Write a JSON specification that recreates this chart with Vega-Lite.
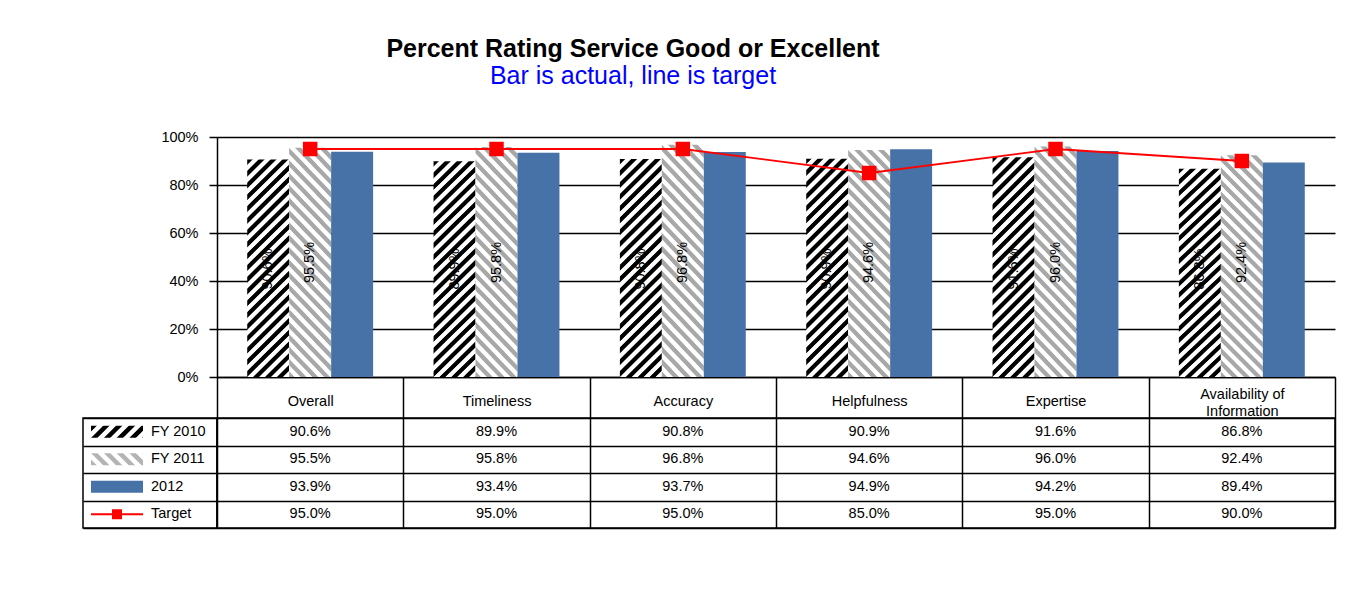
{
  "$schema": "https://vega.github.io/schema/vega-lite/v6.json",
  "padding": {"left": 82, "top": 37, "right": 17, "bottom": 20},
  "config": {"font": "Liberation Sans", "view": {"stroke": null}},
  "title": {"text": "Percent Rating Service Good or Excellent", "subtitle": "Bar is actual, line is target", "anchor": "middle", "dx": -76, "fontSize": 25, "fontWeight": "bold", "color": "black", "subtitleFontSize": 25, "subtitleColor": "#0000FF", "subtitlePadding": 2, "offset": 40},
  "datasets": {
    "d": [
      {"cat": "Overall", "series": "FY 2010", "value": 0.906},
      {"cat": "Timeliness", "series": "FY 2010", "value": 0.899},
      {"cat": "Accuracy", "series": "FY 2010", "value": 0.908},
      {"cat": "Helpfulness", "series": "FY 2010", "value": 0.909},
      {"cat": "Expertise", "series": "FY 2010", "value": 0.916},
      {"cat": "Availability of Information", "series": "FY 2010", "value": 0.868},
      {"cat": "Overall", "series": "FY 2011", "value": 0.955},
      {"cat": "Timeliness", "series": "FY 2011", "value": 0.958},
      {"cat": "Accuracy", "series": "FY 2011", "value": 0.968},
      {"cat": "Helpfulness", "series": "FY 2011", "value": 0.946},
      {"cat": "Expertise", "series": "FY 2011", "value": 0.960},
      {"cat": "Availability of Information", "series": "FY 2011", "value": 0.924},
      {"cat": "Overall", "series": "2012", "value": 0.939},
      {"cat": "Timeliness", "series": "2012", "value": 0.934},
      {"cat": "Accuracy", "series": "2012", "value": 0.937},
      {"cat": "Helpfulness", "series": "2012", "value": 0.949},
      {"cat": "Expertise", "series": "2012", "value": 0.942},
      {"cat": "Availability of Information", "series": "2012", "value": 0.894},
      {"cat": "Overall", "series": "Target", "value": 0.95},
      {"cat": "Timeliness", "series": "Target", "value": 0.95},
      {"cat": "Accuracy", "series": "Target", "value": 0.95},
      {"cat": "Helpfulness", "series": "Target", "value": 0.85},
      {"cat": "Expertise", "series": "Target", "value": 0.95},
      {"cat": "Availability of Information", "series": "Target", "value": 0.90}
    ]
  },
  "columns": 2,
  "spacing": {"row": 41, "column": 0},
  "bounds": "flush",
  "align": "each",
  "concat": [
    {
      "width": 134, "height": 240,
      "data": {"values": [{"a": 1}]},
      "mark": {"type": "text", "text": ""},
      "encoding": {}
    },
    {
      "width": 1118, "height": 240,
      "data": {"name": "d"},
      "encoding": {
        "x": {"field": "cat", "type": "nominal",
          "scale": {"domain": ["Overall", "Timeliness", "Accuracy", "Helpfulness", "Expertise", "Availability of Information"], "paddingInner": 0, "paddingOuter": 0},
          "axis": {"title": null, "labelAngle": 0, "tickBand": "extent", "ticks": true, "tickSize": 41, "tickColor": "black", "tickWidth": 1.5, "domain": true, "domainColor": "black", "domainWidth": 1.5, "labelPadding": -17, "labelFontSize": 14.5, "labelColor": "black", "labelLimit": 0, "labelLineHeight": 17, "grid": false,
            "labelBaseline": {"condition": {"test": "datum.label == 'Availability of Information'", "value": "bottom"}, "value": "middle"},
            "labelExpr": "datum.label == 'Availability of Information' ? ['Availability of', 'Information'] : datum.label"}}
      },
      "layer": [
        {
          "transform": [{"filter": "datum.series === 'FY 2010'"}],
          "mark": {"type": "bar", "strokeWidth": 0, "fill": {"gradient": "linear", "x1": 0, "y1": 0, "x2": 0.22, "y2": 1.15, "stops": [
            {"offset": 0, "color": "#000000"}, {"offset": 0.01818, "color": "#000000"}, {"offset": 0.02273, "color": "#ffffff"}, {"offset": 0.04091, "color": "#ffffff"},
            {"offset": 0.04545, "color": "#000000"}, {"offset": 0.06364, "color": "#000000"}, {"offset": 0.06818, "color": "#ffffff"}, {"offset": 0.08636, "color": "#ffffff"},
            {"offset": 0.09091, "color": "#000000"}, {"offset": 0.10909, "color": "#000000"}, {"offset": 0.11364, "color": "#ffffff"}, {"offset": 0.13182, "color": "#ffffff"},
            {"offset": 0.13636, "color": "#000000"}, {"offset": 0.15455, "color": "#000000"}, {"offset": 0.15909, "color": "#ffffff"}, {"offset": 0.17727, "color": "#ffffff"},
            {"offset": 0.18182, "color": "#000000"}, {"offset": 0.2, "color": "#000000"}, {"offset": 0.20455, "color": "#ffffff"}, {"offset": 0.22273, "color": "#ffffff"},
            {"offset": 0.22727, "color": "#000000"}, {"offset": 0.24545, "color": "#000000"}, {"offset": 0.25, "color": "#ffffff"}, {"offset": 0.26818, "color": "#ffffff"},
            {"offset": 0.27273, "color": "#000000"}, {"offset": 0.29091, "color": "#000000"}, {"offset": 0.29545, "color": "#ffffff"}, {"offset": 0.31364, "color": "#ffffff"},
            {"offset": 0.31818, "color": "#000000"}, {"offset": 0.33636, "color": "#000000"}, {"offset": 0.34091, "color": "#ffffff"}, {"offset": 0.35909, "color": "#ffffff"},
            {"offset": 0.36364, "color": "#000000"}, {"offset": 0.38182, "color": "#000000"}, {"offset": 0.38636, "color": "#ffffff"}, {"offset": 0.40455, "color": "#ffffff"},
            {"offset": 0.40909, "color": "#000000"}, {"offset": 0.42727, "color": "#000000"}, {"offset": 0.43182, "color": "#ffffff"}, {"offset": 0.45, "color": "#ffffff"},
            {"offset": 0.45455, "color": "#000000"}, {"offset": 0.47273, "color": "#000000"}, {"offset": 0.47727, "color": "#ffffff"}, {"offset": 0.49545, "color": "#ffffff"},
            {"offset": 0.5, "color": "#000000"}, {"offset": 0.51818, "color": "#000000"}, {"offset": 0.52273, "color": "#ffffff"}, {"offset": 0.54091, "color": "#ffffff"},
            {"offset": 0.54545, "color": "#000000"}, {"offset": 0.56364, "color": "#000000"}, {"offset": 0.56818, "color": "#ffffff"}, {"offset": 0.58636, "color": "#ffffff"},
            {"offset": 0.59091, "color": "#000000"}, {"offset": 0.60909, "color": "#000000"}, {"offset": 0.61364, "color": "#ffffff"}, {"offset": 0.63182, "color": "#ffffff"},
            {"offset": 0.63636, "color": "#000000"}, {"offset": 0.65455, "color": "#000000"}, {"offset": 0.65909, "color": "#ffffff"}, {"offset": 0.67727, "color": "#ffffff"},
            {"offset": 0.68182, "color": "#000000"}, {"offset": 0.7, "color": "#000000"}, {"offset": 0.70455, "color": "#ffffff"}, {"offset": 0.72273, "color": "#ffffff"},
            {"offset": 0.72727, "color": "#000000"}, {"offset": 0.74545, "color": "#000000"}, {"offset": 0.75, "color": "#ffffff"}, {"offset": 0.76818, "color": "#ffffff"},
            {"offset": 0.77273, "color": "#000000"}, {"offset": 0.79091, "color": "#000000"}, {"offset": 0.79545, "color": "#ffffff"}, {"offset": 0.81364, "color": "#ffffff"},
            {"offset": 0.81818, "color": "#000000"}, {"offset": 0.83636, "color": "#000000"}, {"offset": 0.84091, "color": "#ffffff"}, {"offset": 0.85909, "color": "#ffffff"},
            {"offset": 0.86364, "color": "#000000"}, {"offset": 0.88182, "color": "#000000"}, {"offset": 0.88636, "color": "#ffffff"}, {"offset": 0.90455, "color": "#ffffff"},
            {"offset": 0.90909, "color": "#000000"}, {"offset": 0.92727, "color": "#000000"}, {"offset": 0.93182, "color": "#ffffff"}, {"offset": 0.95, "color": "#ffffff"},
            {"offset": 0.95455, "color": "#000000"}, {"offset": 0.97273, "color": "#000000"}, {"offset": 0.97727, "color": "#ffffff"}, {"offset": 0.99545, "color": "#ffffff"},
            {"offset": 1, "color": "#000000"}]}},
          "encoding": {
            "xOffset": {"field": "series", "type": "nominal", "scale": {"domain": ["FY 2010", "FY 2011", "2012"], "paddingInner": 0, "paddingOuter": 0.72}},
            "y": {"field": "value", "type": "quantitative", "scale": {"domain": [0, 1]},
              "axis": {"title": null, "values": [0, 0.2, 0.4, 0.6, 0.8, 1], "format": "%", "grid": true, "gridColor": "black", "gridWidth": 1.5, "gridOpacity": 1, "domain": true, "domainColor": "black", "domainWidth": 1.5, "ticks": true, "tickColor": "black", "tickWidth": 1.5, "tickSize": 8, "labelPadding": 11, "labelFontSize": 14.5, "labelColor": "black"}}
          }
        },
        {
          "transform": [{"filter": "datum.series === 'FY 2011'"}],
          "mark": {"type": "bar", "strokeWidth": 0, "fill": {"gradient": "linear", "x1": 0, "y1": 1, "x2": 0.22, "y2": -0.15, "stops": [
            {"offset": 0, "color": "#a8a8a8"}, {"offset": 0.01818, "color": "#a8a8a8"}, {"offset": 0.02273, "color": "#ffffff"}, {"offset": 0.04091, "color": "#ffffff"},
            {"offset": 0.04545, "color": "#a8a8a8"}, {"offset": 0.06364, "color": "#a8a8a8"}, {"offset": 0.06818, "color": "#ffffff"}, {"offset": 0.08636, "color": "#ffffff"},
            {"offset": 0.09091, "color": "#a8a8a8"}, {"offset": 0.10909, "color": "#a8a8a8"}, {"offset": 0.11364, "color": "#ffffff"}, {"offset": 0.13182, "color": "#ffffff"},
            {"offset": 0.13636, "color": "#a8a8a8"}, {"offset": 0.15455, "color": "#a8a8a8"}, {"offset": 0.15909, "color": "#ffffff"}, {"offset": 0.17727, "color": "#ffffff"},
            {"offset": 0.18182, "color": "#a8a8a8"}, {"offset": 0.2, "color": "#a8a8a8"}, {"offset": 0.20455, "color": "#ffffff"}, {"offset": 0.22273, "color": "#ffffff"},
            {"offset": 0.22727, "color": "#a8a8a8"}, {"offset": 0.24545, "color": "#a8a8a8"}, {"offset": 0.25, "color": "#ffffff"}, {"offset": 0.26818, "color": "#ffffff"},
            {"offset": 0.27273, "color": "#a8a8a8"}, {"offset": 0.29091, "color": "#a8a8a8"}, {"offset": 0.29545, "color": "#ffffff"}, {"offset": 0.31364, "color": "#ffffff"},
            {"offset": 0.31818, "color": "#a8a8a8"}, {"offset": 0.33636, "color": "#a8a8a8"}, {"offset": 0.34091, "color": "#ffffff"}, {"offset": 0.35909, "color": "#ffffff"},
            {"offset": 0.36364, "color": "#a8a8a8"}, {"offset": 0.38182, "color": "#a8a8a8"}, {"offset": 0.38636, "color": "#ffffff"}, {"offset": 0.40455, "color": "#ffffff"},
            {"offset": 0.40909, "color": "#a8a8a8"}, {"offset": 0.42727, "color": "#a8a8a8"}, {"offset": 0.43182, "color": "#ffffff"}, {"offset": 0.45, "color": "#ffffff"},
            {"offset": 0.45455, "color": "#a8a8a8"}, {"offset": 0.47273, "color": "#a8a8a8"}, {"offset": 0.47727, "color": "#ffffff"}, {"offset": 0.49545, "color": "#ffffff"},
            {"offset": 0.5, "color": "#a8a8a8"}, {"offset": 0.51818, "color": "#a8a8a8"}, {"offset": 0.52273, "color": "#ffffff"}, {"offset": 0.54091, "color": "#ffffff"},
            {"offset": 0.54545, "color": "#a8a8a8"}, {"offset": 0.56364, "color": "#a8a8a8"}, {"offset": 0.56818, "color": "#ffffff"}, {"offset": 0.58636, "color": "#ffffff"},
            {"offset": 0.59091, "color": "#a8a8a8"}, {"offset": 0.60909, "color": "#a8a8a8"}, {"offset": 0.61364, "color": "#ffffff"}, {"offset": 0.63182, "color": "#ffffff"},
            {"offset": 0.63636, "color": "#a8a8a8"}, {"offset": 0.65455, "color": "#a8a8a8"}, {"offset": 0.65909, "color": "#ffffff"}, {"offset": 0.67727, "color": "#ffffff"},
            {"offset": 0.68182, "color": "#a8a8a8"}, {"offset": 0.7, "color": "#a8a8a8"}, {"offset": 0.70455, "color": "#ffffff"}, {"offset": 0.72273, "color": "#ffffff"},
            {"offset": 0.72727, "color": "#a8a8a8"}, {"offset": 0.74545, "color": "#a8a8a8"}, {"offset": 0.75, "color": "#ffffff"}, {"offset": 0.76818, "color": "#ffffff"},
            {"offset": 0.77273, "color": "#a8a8a8"}, {"offset": 0.79091, "color": "#a8a8a8"}, {"offset": 0.79545, "color": "#ffffff"}, {"offset": 0.81364, "color": "#ffffff"},
            {"offset": 0.81818, "color": "#a8a8a8"}, {"offset": 0.83636, "color": "#a8a8a8"}, {"offset": 0.84091, "color": "#ffffff"}, {"offset": 0.85909, "color": "#ffffff"},
            {"offset": 0.86364, "color": "#a8a8a8"}, {"offset": 0.88182, "color": "#a8a8a8"}, {"offset": 0.88636, "color": "#ffffff"}, {"offset": 0.90455, "color": "#ffffff"},
            {"offset": 0.90909, "color": "#a8a8a8"}, {"offset": 0.92727, "color": "#a8a8a8"}, {"offset": 0.93182, "color": "#ffffff"}, {"offset": 0.95, "color": "#ffffff"},
            {"offset": 0.95455, "color": "#a8a8a8"}, {"offset": 0.97273, "color": "#a8a8a8"}, {"offset": 0.97727, "color": "#ffffff"}, {"offset": 0.99545, "color": "#ffffff"},
            {"offset": 1, "color": "#a8a8a8"}]}},
          "encoding": {
            "xOffset": {"field": "series", "type": "nominal", "scale": {"domain": ["FY 2010", "FY 2011", "2012"], "paddingInner": 0, "paddingOuter": 0.72}},
            "y": {"field": "value", "type": "quantitative"}
          }
        },
        {
          "transform": [{"filter": "datum.series === '2012'"}],
          "mark": {"type": "bar", "fill": "#4672A8", "strokeWidth": 0},
          "encoding": {
            "xOffset": {"field": "series", "type": "nominal", "scale": {"domain": ["FY 2010", "FY 2011", "2012"], "paddingInner": 0, "paddingOuter": 0.72}},
            "y": {"field": "value", "type": "quantitative"}
          }
        },
        {
          "transform": [{"filter": "datum.series === 'FY 2010'"}],
          "mark": {"type": "text", "angle": 270, "fontSize": 14.5, "color": "black", "align": "center", "baseline": "middle"},
          "encoding": {
            "xOffset": {"field": "series", "type": "nominal", "scale": {"domain": ["FY 2010", "FY 2011", "2012"], "paddingInner": 0, "paddingOuter": 0.72}},
            "y": {"datum": 0.45, "type": "quantitative"},
            "text": {"field": "value", "type": "quantitative", "format": ".1%"}
          }
        },
        {
          "transform": [{"filter": "datum.series === 'FY 2011'"}],
          "mark": {"type": "text", "angle": 270, "fontSize": 14.5, "color": "black", "align": "center", "baseline": "middle"},
          "encoding": {
            "xOffset": {"field": "series", "type": "nominal", "scale": {"domain": ["FY 2010", "FY 2011", "2012"], "paddingInner": 0, "paddingOuter": 0.72}},
            "y": {"datum": 0.477, "type": "quantitative"},
            "text": {"field": "value", "type": "quantitative", "format": ".1%"}
          }
        },
        {
          "transform": [{"filter": "datum.series === 'Target'"}],
          "mark": {"type": "line", "color": "#FF0000", "strokeWidth": 1.8},
          "encoding": {"y": {"field": "value", "type": "quantitative"}}
        },
        {
          "transform": [{"filter": "datum.series === 'Target'"}],
          "mark": {"type": "square", "filled": true, "color": "#FF0000", "size": 210, "opacity": 1},
          "encoding": {"y": {"field": "value", "type": "quantitative"}}
        }
      ]
    },
    {
      "width": 134, "height": 110,
      "view": {"stroke": "black", "strokeWidth": 1.5},
      "data": {"name": "d"},
      "transform": [{"filter": "datum.cat === 'Overall'"}],
      "encoding": {
        "y": {"field": "series", "type": "nominal", "scale": {"domain": ["FY 2010", "FY 2011", "2012", "Target"], "paddingInner": 0, "paddingOuter": 0},
          "axis": {"title": null, "grid": true, "tickBand": "extent", "labels": false, "ticks": false, "domain": false, "gridColor": "black", "gridWidth": 1.5, "gridOpacity": 1}}
      },
      "layer": [
        {
          "transform": [{"filter": "datum.series === 'FY 2010'"}],
          "mark": {"type": "rect", "height": 12, "strokeWidth": 0, "fill": {"gradient": "linear", "x1": 0, "y1": 0, "x2": 1.168, "y2": 0.27, "stops": [
            {"offset": 0, "color": "#000000"}, {"offset": 0.08, "color": "#000000"}, {"offset": 0.1, "color": "#ffffff"}, {"offset": 0.18, "color": "#ffffff"},
            {"offset": 0.2, "color": "#000000"}, {"offset": 0.28, "color": "#000000"}, {"offset": 0.3, "color": "#ffffff"}, {"offset": 0.38, "color": "#ffffff"},
            {"offset": 0.4, "color": "#000000"}, {"offset": 0.48, "color": "#000000"}, {"offset": 0.5, "color": "#ffffff"}, {"offset": 0.58, "color": "#ffffff"},
            {"offset": 0.6, "color": "#000000"}, {"offset": 0.68, "color": "#000000"}, {"offset": 0.7, "color": "#ffffff"}, {"offset": 0.78, "color": "#ffffff"},
            {"offset": 0.8, "color": "#000000"}, {"offset": 0.88, "color": "#000000"}, {"offset": 0.9, "color": "#ffffff"}, {"offset": 0.98, "color": "#ffffff"},
            {"offset": 1, "color": "#000000"}]}},
          "encoding": {
            "x": {"datum": "sw", "type": "nominal", "scale": {"domain": ["sw", "lab"], "paddingInner": 0.1333, "paddingOuter": 0.1833, "align": 0.364}, "axis": null}
          }
        },
        {
          "transform": [{"filter": "datum.series === 'FY 2011'"}],
          "mark": {"type": "rect", "height": 12, "strokeWidth": 0, "fill": {"gradient": "linear", "x1": 0, "y1": 1, "x2": 1.168, "y2": 0.73, "stops": [
            {"offset": 0, "color": "#b4b4b4"}, {"offset": 0.08, "color": "#b4b4b4"}, {"offset": 0.1, "color": "#ffffff"}, {"offset": 0.18, "color": "#ffffff"},
            {"offset": 0.2, "color": "#b4b4b4"}, {"offset": 0.28, "color": "#b4b4b4"}, {"offset": 0.3, "color": "#ffffff"}, {"offset": 0.38, "color": "#ffffff"},
            {"offset": 0.4, "color": "#b4b4b4"}, {"offset": 0.48, "color": "#b4b4b4"}, {"offset": 0.5, "color": "#ffffff"}, {"offset": 0.58, "color": "#ffffff"},
            {"offset": 0.6, "color": "#b4b4b4"}, {"offset": 0.68, "color": "#b4b4b4"}, {"offset": 0.7, "color": "#ffffff"}, {"offset": 0.78, "color": "#ffffff"},
            {"offset": 0.8, "color": "#b4b4b4"}, {"offset": 0.88, "color": "#b4b4b4"}, {"offset": 0.9, "color": "#ffffff"}, {"offset": 0.98, "color": "#ffffff"},
            {"offset": 1, "color": "#b4b4b4"}]}},
          "encoding": {
            "x": {"datum": "sw", "type": "nominal", "scale": {"domain": ["sw", "lab"], "paddingInner": 0.1333, "paddingOuter": 0.1833, "align": 0.364}, "axis": null}
          }
        },
        {
          "transform": [{"filter": "datum.series === '2012'"}],
          "mark": {"type": "rect", "height": 12, "strokeWidth": 0, "fill": "#4672A8"},
          "encoding": {
            "x": {"datum": "sw", "type": "nominal", "scale": {"domain": ["sw", "lab"], "paddingInner": 0.1333, "paddingOuter": 0.1833, "align": 0.364}, "axis": null}
          }
        },
        {
          "transform": [{"filter": "datum.series === 'Target'"}],
          "mark": {"type": "rect", "height": 2, "strokeWidth": 0, "fill": "#FF0000"},
          "encoding": {
            "x": {"datum": "sw", "type": "nominal", "scale": {"domain": ["sw", "lab"], "paddingInner": 0.1333, "paddingOuter": 0.1833, "align": 0.364}, "axis": null}
          }
        },
        {
          "transform": [{"filter": "datum.series === 'Target'"}],
          "mark": {"type": "square", "filled": true, "color": "#FF0000", "size": 100, "opacity": 1},
          "encoding": {
            "x": {"datum": "sw", "type": "nominal", "scale": {"domain": ["sw", "lab"], "paddingInner": 0.1333, "paddingOuter": 0.1833, "align": 0.364}, "axis": null}
          }
        },
        {
          "mark": {"type": "text", "align": "left", "baseline": "middle", "fontSize": 14.5, "color": "black"},
          "encoding": {
            "x": {"datum": "lab", "type": "nominal", "bandPosition": 0, "scale": {"domain": ["sw", "lab"], "paddingInner": 0.1333, "paddingOuter": 0.1833, "align": 0.364}, "axis": null},
            "text": {"field": "series", "type": "nominal"}
          }
        }
      ]
    },
    {
      "width": 1118, "height": 110,
      "view": {"stroke": "black", "strokeWidth": 1.5},
      "data": {"name": "d"},
      "mark": {"type": "text", "fontSize": 14.5, "color": "black", "align": "center", "baseline": "middle"},
      "encoding": {
        "x": {"field": "cat", "type": "nominal",
          "scale": {"domain": ["Overall", "Timeliness", "Accuracy", "Helpfulness", "Expertise", "Availability of Information"], "paddingInner": 0, "paddingOuter": 0},
          "axis": {"title": null, "grid": true, "tickBand": "extent", "labels": false, "ticks": false, "domain": false, "gridColor": "black", "gridWidth": 1.5, "gridOpacity": 1}},
        "y": {"field": "series", "type": "nominal", "scale": {"domain": ["FY 2010", "FY 2011", "2012", "Target"], "paddingInner": 0, "paddingOuter": 0},
          "axis": {"title": null, "grid": true, "tickBand": "extent", "labels": false, "ticks": false, "domain": false, "gridColor": "black", "gridWidth": 1.5, "gridOpacity": 1}},
        "text": {"field": "value", "type": "quantitative", "format": ".1%"}
      }
    }
  ]
}
